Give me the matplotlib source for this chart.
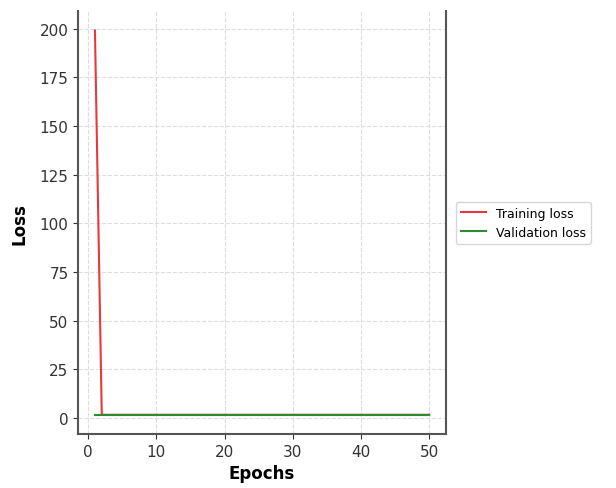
import matplotlib
matplotlib.use("Agg")
import matplotlib.pyplot as plt

epochs = list(range(1, 51))
train_loss = [199.0] + [1.6] * 49
val_loss = [1.5] * 50

fig = plt.figure(figsize=(6.16, 4.89), dpi=100)
ax = fig.add_axes([0.127, 0.11, 0.597, 0.865])

ax.plot(epochs, train_loss, color="#e8383d", linewidth=1.5, label="Training loss")
ax.plot(epochs, val_loss, color="#2e8b2e", linewidth=1.5, label="Validation loss")

ax.grid(True, linestyle="--", color="#dddddd", linewidth=0.8)
ax.spines["top"].set_visible(False)
for s in ["left", "right", "bottom"]:
    ax.spines[s].set_color("#555555")
    ax.spines[s].set_linewidth(1.5)

ax.set_xticks([0, 10, 20, 30, 40, 50])
ax.set_yticks([0, 25, 50, 75, 100, 125, 150, 175, 200])
ax.tick_params(labelsize=11, colors="#333333")
ax.set_xlabel("Epochs", fontsize=12, fontweight="bold")
ax.set_ylabel("Loss", fontsize=12, fontweight="bold", labelpad=8)

ax.legend(loc="center left", bbox_to_anchor=(1.01, 0.5), fontsize=9, frameon=True)

fig.savefig("out.png", dpi=100)
